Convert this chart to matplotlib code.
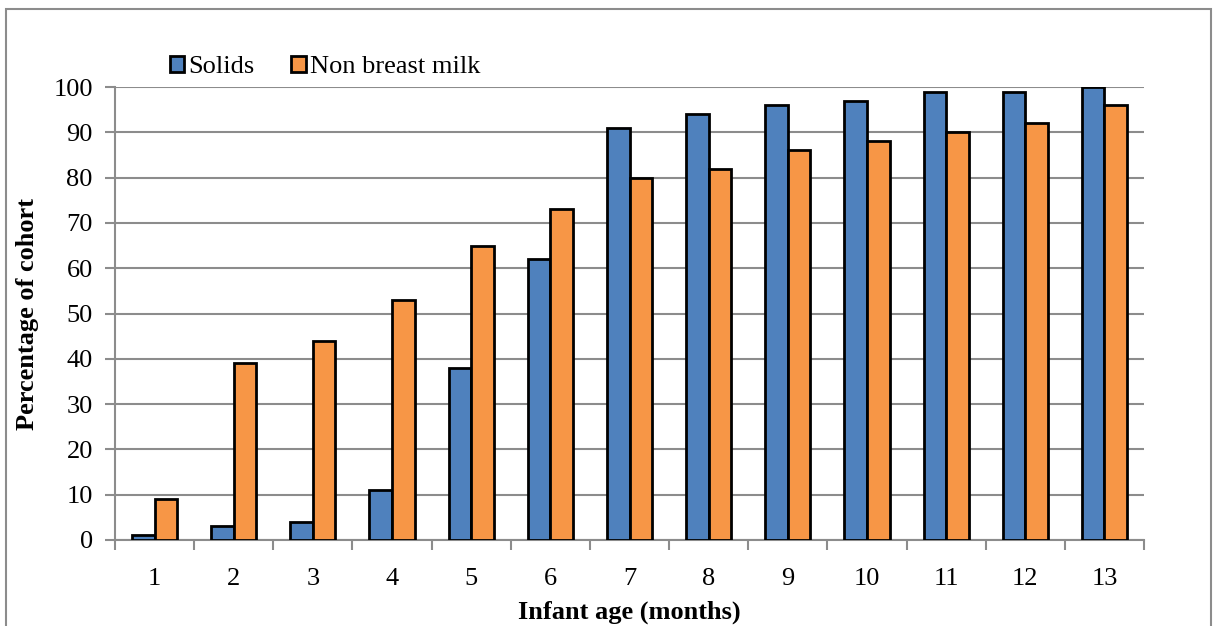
import numpy as np
import matplotlib
matplotlib.use('Agg')
import matplotlib.pyplot as plt
from matplotlib.patches import Rectangle

# Data
months = [str(m) for m in range(1, 14)]
solids = [1, 3, 4, 11, 38, 62, 91, 94, 96, 97, 99, 99, 100]
non_breast_milk = [9, 39, 44, 53, 65, 73, 80, 82, 86, 88, 90, 92, 96]

plt.rcParams['font.family'] = ['Liberation Serif', 'DejaVu Serif']
FS = 19

fig = plt.figure(figsize=(12.16, 6.26), dpi=100)
ax = fig.add_axes([115 / 1216, 1 - 540 / 626, (1144 - 115) / 1216, (540 - 87) / 626])

# outer chart border
fig.patches.append(Rectangle((6 / 1216, -0.05), (1211 - 6) / 1216, 1 - 9 / 626 + 0.05,
                             transform=fig.transFigure, fill=False,
                             edgecolor='#8c8c8c', linewidth=1.5))

x = np.arange(len(months))
w = 0.285
ax.bar(x - w / 2, solids, w, color='#4f81bd', edgecolor='black', linewidth=2,
       label='Solids', zorder=3)
ax.bar(x + w / 2, non_breast_milk, w, color='#f79646', edgecolor='black', linewidth=2,
       label='Non breast milk', zorder=3)

ax.set_xlim(-0.5, len(months) - 0.5)
ax.set_ylim(0, 100)
ax.set_yticks(range(0, 101, 10))
ax.set_xticks(x)
ax.set_xticklabels(months)
ax.set_xticks(np.arange(-0.5, len(months)), minor=True)
ax.tick_params(axis='x', which='major', length=0, pad=20, labelsize=FS)
ax.tick_params(axis='x', which='minor', length=7, width=1.5, color='#8c8c8c', direction='out')
ax.tick_params(axis='y', length=7, width=1.5, color='#8c8c8c', labelsize=FS, pad=9)

ax.grid(axis='y', color='#8c8c8c', linewidth=1.5, zorder=0)
for s in ['top', 'right']:
    ax.spines[s].set_visible(False)
for s in ['left', 'bottom']:
    ax.spines[s].set_color('#8c8c8c')
    ax.spines[s].set_linewidth(1.5)

ax.set_ylabel('Percentage of cohort', fontsize=FS, fontweight='bold', labelpad=10)
ax.set_xlabel('Infant age (months)', fontsize=FS, fontweight='bold', labelpad=8)

ax.legend(loc='lower left', bbox_to_anchor=(0.053, 1.02), ncol=2, frameon=False,
          fontsize=FS, handlelength=0.55, handleheight=0.55, handletextpad=0.15,
          columnspacing=1.4, borderaxespad=0, borderpad=0)

fig.savefig('out.png', dpi=100)
